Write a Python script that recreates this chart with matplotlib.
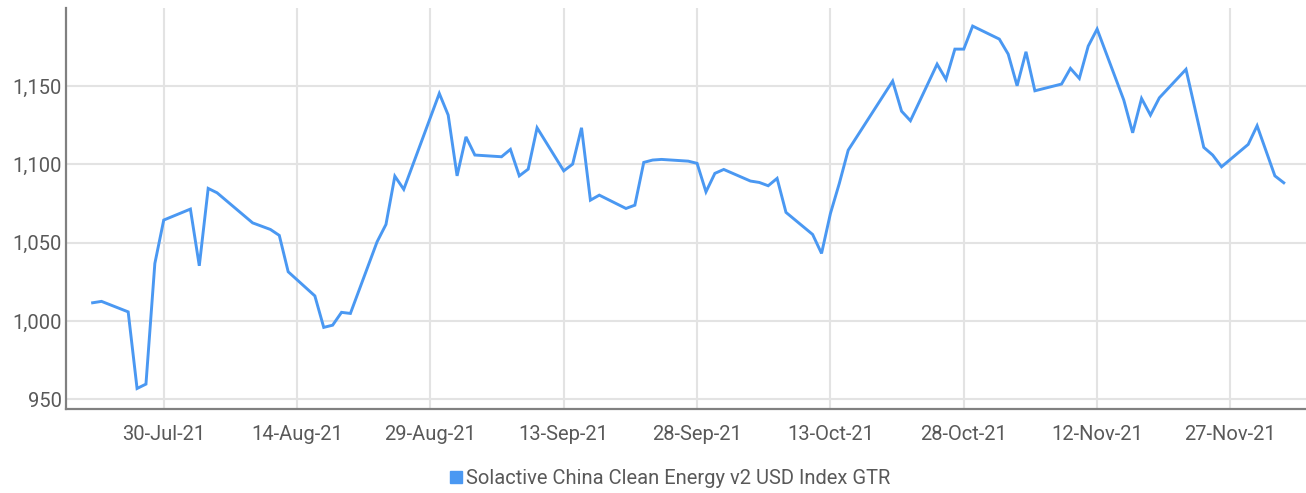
import matplotlib
matplotlib.use("Agg")
import matplotlib.pyplot as plt
import matplotlib.dates as mdates
from matplotlib.lines import Line2D
from matplotlib.ticker import FuncFormatter
import pandas as pd

# data
dates = [
    "2021-07-22", "2021-07-23", "2021-07-26", "2021-07-27", "2021-07-28", "2021-07-29",
    "2021-07-30", "2021-08-02", "2021-08-03", "2021-08-04", "2021-08-05", "2021-08-09",
    "2021-08-11", "2021-08-12", "2021-08-13", "2021-08-16", "2021-08-17", "2021-08-18",
    "2021-08-19", "2021-08-20", "2021-08-23", "2021-08-24", "2021-08-25", "2021-08-26",
    "2021-08-30", "2021-08-31", "2021-09-01", "2021-09-02", "2021-09-03", "2021-09-06",
    "2021-09-07", "2021-09-08", "2021-09-09", "2021-09-10", "2021-09-13", "2021-09-14",
    "2021-09-15", "2021-09-16", "2021-09-17", "2021-09-20", "2021-09-21", "2021-09-22",
    "2021-09-23", "2021-09-24", "2021-09-27", "2021-09-28", "2021-09-29", "2021-09-30",
    "2021-10-01", "2021-10-04", "2021-10-05", "2021-10-06", "2021-10-07", "2021-10-08",
    "2021-10-11", "2021-10-12", "2021-10-13", "2021-10-14", "2021-10-15", "2021-10-20",
    "2021-10-21", "2021-10-22", "2021-10-25", "2021-10-26", "2021-10-27", "2021-10-28",
    "2021-10-29", "2021-11-01", "2021-11-02", "2021-11-03", "2021-11-04", "2021-11-05",
    "2021-11-08", "2021-11-09", "2021-11-10", "2021-11-11", "2021-11-12", "2021-11-15",
    "2021-11-16", "2021-11-17", "2021-11-18", "2021-11-19", "2021-11-22", "2021-11-24",
    "2021-11-25", "2021-11-26", "2021-11-29", "2021-11-30", "2021-12-02", "2021-12-03",
]
values = [
    1011.7, 1012.6, 1005.9, 957.0, 959.8, 1036.8,
    1064.5, 1071.5, 1035.3, 1084.7, 1081.9, 1062.7,
    1058.5, 1054.7, 1031.5, 1016.1, 996.0, 997.4,
    1005.6, 1004.9, 1050.6, 1061.7, 1092.5, 1084.1,
    1145.3, 1131.5, 1092.7, 1117.6, 1106.0, 1104.9,
    1109.6, 1092.7, 1097.0, 1123.4, 1095.9, 1100.2,
    1123.4, 1077.2, 1080.4, 1071.9, 1074.0, 1101.3,
    1102.8, 1103.2, 1102.1, 1100.7, 1082.5, 1094.3,
    1096.8, 1089.4, 1088.5, 1086.4, 1091.1, 1069.4,
    1055.3, 1043.2, 1068.7, 1087.9, 1109.1, 1153.2,
    1134.0, 1127.9, 1164.0, 1154.3, 1173.6, 1173.6,
    1188.3, 1180.0, 1170.4, 1150.2, 1171.9, 1147.0,
    1151.3, 1161.3, 1154.9, 1175.5, 1186.4, 1141.1,
    1120.2, 1142.1, 1131.5, 1142.5, 1160.7, 1110.9,
    1106.0, 1098.5, 1112.8, 1124.7, 1092.7, 1088.3,
]
series_name = "Solactive China Clean Energy v2 USD Index GTR"
y_ticks = [950, 1000, 1050, 1100, 1150]

line_color = "#4a98f2"
text_color = "#595959"

plt.rcParams['font.family'] = ['Roboto', 'DejaVu Sans']

x = pd.to_datetime(dates)

fig = plt.figure(figsize=(13.06, 4.93), dpi=100)
ax = fig.add_axes([0.0505, 0.171, 0.9495, 0.812])

ax.plot(x, values, color=line_color, linewidth=2.1, solid_joinstyle='miter')

ax.set_xlim(pd.Timestamp("2021-07-19"), pd.Timestamp("2021-12-05 12:00"))
ax.set_ylim(944.1, 1199.6)

tick_dates = pd.date_range("2021-07-30", "2021-11-27", freq="15D")
ax.set_xticks(tick_dates)
ax.xaxis.set_major_formatter(mdates.DateFormatter("%d-%b-%y"))
ax.set_yticks(y_ticks)
ax.yaxis.set_major_formatter(FuncFormatter(lambda v, p: f"{int(v):,}"))

ax.grid(True, color="#e3e3e3", linewidth=1.5)
ax.set_axisbelow(True)

for s in ["top", "right"]:
    ax.spines[s].set_visible(False)
for s in ["left", "bottom"]:
    ax.spines[s].set_color("#808080")
    ax.spines[s].set_linewidth(1.6)

ax.tick_params(axis='both', length=0, labelsize=14.5, labelcolor=text_color)
ax.tick_params(axis='x', pad=12)
ax.tick_params(axis='y', pad=3)

handle = Line2D([], [], marker='s', linestyle='none', color=line_color, markersize=8)
fig.legend([handle], [series_name], loc='center', bbox_to_anchor=(0.512, 0.03),
           frameon=False, fontsize=14.5, labelcolor=text_color,
           handletextpad=0.1, handlelength=0.8, borderpad=0)

fig.savefig("out.png", dpi=100)
